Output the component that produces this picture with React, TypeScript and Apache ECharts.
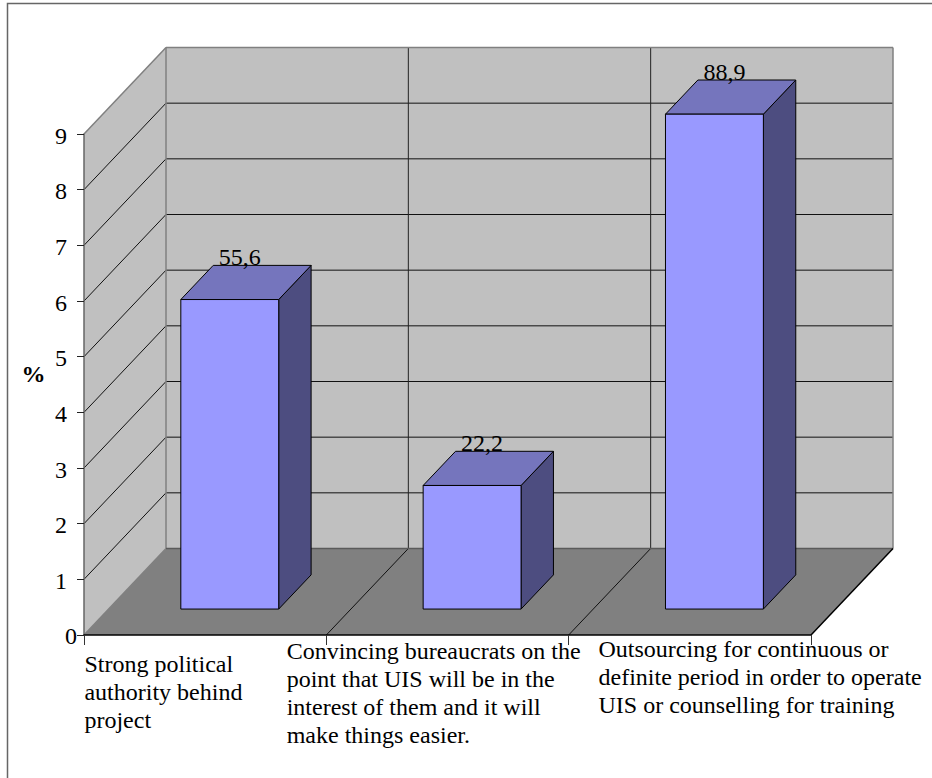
import React, { useEffect, useRef } from "react";
import * as echarts from "echarts";

// Survey results: share of respondents per success factor
const categories = [
  "Strong political\nauthority behind\nproject",
  "Convincing bureaucrats on the\npoint that UIS will be in the\ninterest of them and it will\nmake things easier.",
  "Outsourcing for continuous or\ndefinite period in order to operate\nUIS or counselling for training",
];
const percentValues = [55.6, 22.2, 88.9];
const axisTickLabels = ["0", "1", "2", "3", "4", "5", "6", "7", "8", "9"];
const gridValues = [10, 20, 30, 40, 50, 60, 70, 80];
const axisTitle = "%";

const AXIS_MAX = 90;
const AXIS_STEP = 10;

// Projection of the chart box: how far the back wall sits from the front plane
const DEPTH_X = 82;
const DEPTH_Y = -86.5;
const BAR_WIDTH_RATIO = 0.404;
const BAR_FRONT_GAP = 0.3;
const BAR_DEPTH = 0.395;

// Category captions sit off-centre: offsets from the band centre, and first-line top
const captionOffsetX = [-120.7, -160.8, -91.3];
const captionTop = [650, 637, 634.5];

const FONT = '"Liberation Serif", "Times New Roman", serif';
const FONT_SIZE = 24;
const LINE_HEIGHT = 28;

const WALL = "#c0c0c0";
const FLOOR = "#808080";
const EDGE = "#808080";
const INK = "#000000";
const BAR_FRONT = "#9999ff";
const BAR_TOP = "#7575bd";
const BAR_SIDE = "#4d4d80";

function renderWalls(_params: any, api: any) {
  const band = api.size([1, 0])[0];
  const [x0, y0] = api.coord([0, 0]);
  const left = x0 - band / 2;
  const right = left + band * categories.length;
  const topY = api.coord([0, AXIS_MAX])[1];
  const backLeft = left + DEPTH_X;
  const backRight = right + DEPTH_X;
  const backBottom = y0 + DEPTH_Y;
  const backTop = topY + DEPTH_Y;

  const poly = (points: number[][], fill: string, stroke = "none", lineWidth = 1) => ({
    type: "polygon",
    shape: { points },
    style: { fill, stroke, lineWidth },
  });
  const line = (x1: number, y1: number, x2: number, y2: number, stroke: string, lineWidth = 1) => ({
    type: "line",
    shape: { x1, y1, x2, y2 },
    style: { stroke, lineWidth },
  });

  const children: any[] = [
    poly([[left, topY], [backLeft, backTop], [backLeft, backBottom], [left, y0]], WALL),
    poly([[backLeft, backTop], [backRight, backTop], [backRight, backBottom], [backLeft, backBottom]], WALL),
  ];

  gridValues.forEach((v) => {
    const y = api.coord([0, v])[1];
    children.push(line(left, y, backLeft, y + DEPTH_Y, "#111111"));
    children.push(line(backLeft, y + DEPTH_Y, backRight, y + DEPTH_Y, "#111111"));
  });

  for (let i = 1; i < categories.length; i++) {
    const bx = backLeft + band * i;
    children.push(line(bx, backTop, bx, backBottom, "#222222"));
  }

  children.push(poly([[left, y0], [right, y0], [backRight, backBottom], [backLeft, backBottom]], FLOOR));

  for (let i = 1; i < categories.length; i++) {
    const fx = left + band * i;
    children.push(line(fx, y0, fx + DEPTH_X, backBottom, "#111111"));
  }

  children.push(line(left, topY, backLeft, backTop, EDGE, 1.5));
  children.push(line(backLeft, backTop, backRight, backTop, EDGE, 1.5));
  children.push(line(backLeft, backTop, backLeft, backBottom, EDGE, 1.5));
  children.push(line(backRight, backTop, backRight, backBottom, EDGE, 1.5));
  children.push(line(left, y0, backLeft, backBottom, EDGE, 1.5));
  children.push(line(backLeft, backBottom, backRight, backBottom, "#5a5a5a", 1.5));
  children.push(line(right, y0, backRight, backBottom, INK, 1.5));

  // Upright axis title, left of the tick labels
  children.push({
    type: "text",
    style: {
      text: axisTitle,
      x: left - 50.5,
      y: api.coord([0, AXIS_MAX / 2])[1] - 11,
      align: "center",
      verticalAlign: "middle",
      fontFamily: FONT,
      fontSize: FONT_SIZE,
      fontWeight: "bold",
      fill: INK,
    },
  });

  return { type: "group", children };
}

function renderBar(_params: any, api: any) {
  const band = api.size([1, 0])[0];
  const index = api.value(0);
  const value = api.value(1);
  const [cx, topFront] = api.coord([index, value]);
  const [, baseFront] = api.coord([index, 0]);
  const w = band * BAR_WIDTH_RATIO;

  const x1 = cx - w / 2 + DEPTH_X * BAR_FRONT_GAP;
  const x2 = x1 + w;
  const yTop = topFront + DEPTH_Y * BAR_FRONT_GAP;
  const yBase = baseFront + DEPTH_Y * BAR_FRONT_GAP;
  const dx = DEPTH_X * BAR_DEPTH;
  const dy = DEPTH_Y * BAR_DEPTH;
  const stroke = { stroke: INK, lineWidth: 1, lineJoin: "round" };

  return {
    type: "group",
    children: [
      {
        type: "polygon",
        shape: { points: [[x2, yTop], [x2 + dx, yTop + dy], [x2 + dx, yBase + dy], [x2, yBase]] },
        style: { fill: BAR_SIDE, ...stroke },
      },
      {
        type: "polygon",
        shape: { points: [[x1, yTop], [x1 + dx, yTop + dy], [x2 + dx, yTop + dy], [x2, yTop]] },
        style: { fill: BAR_TOP, ...stroke },
      },
      {
        type: "rect",
        shape: { x: x1, y: yTop, width: w, height: yBase - yTop },
        style: { fill: BAR_FRONT, ...stroke },
      },
      {
        type: "text",
        style: {
          text: String(value).replace(".", ","),
          x: (x1 + x2) / 2 + 10,
          y: yTop + dy - 8,
          align: "center",
          verticalAlign: "middle",
          fontFamily: FONT,
          fontSize: FONT_SIZE,
          fill: INK,
        },
      },
    ],
  };
}

function renderCaption(_params: any, api: any) {
  const index = api.value(0);
  const [cx] = api.coord([index, 0]);
  return {
    type: "text",
    style: {
      text: categories[index],
      x: cx + captionOffsetX[index],
      y: captionTop[index],
      align: "left",
      verticalAlign: "top",
      fontFamily: FONT,
      fontSize: FONT_SIZE,
      lineHeight: LINE_HEIGHT,
      fill: INK,
    },
  };
}

export default function App() {
  const ref = useRef<HTMLDivElement>(null);

  useEffect(() => {
    if (!ref.current) return;
    const chart = echarts.init(ref.current, undefined, { renderer: "svg" });
    chart.setOption({
      animation: false,
      backgroundColor: "#ffffff",
      graphic: [
        {
          type: "polyline",
          shape: { points: [[7.5, 778], [7.5, 3.5], [932, 3.5]] },
          style: { fill: "none", stroke: "#666666", lineWidth: 1.5 },
        },
      ],
      grid: { left: 84, top: 134, width: 727, height: 501, containLabel: false },
      xAxis: {
        type: "category",
        data: categories,
        boundaryGap: true,
        z: 6,
        axisLine: { show: true, lineStyle: { color: INK, width: 1.5 } },
        axisTick: { show: true, length: 10, lineStyle: { color: "#333333", width: 1 } },
        axisLabel: { show: false },
        splitLine: { show: false },
      },
      yAxis: {
        type: "value",
        min: 0,
        max: AXIS_MAX,
        interval: AXIS_STEP,
        z: 6,
        axisLine: { show: true, lineStyle: { color: "#666666", width: 1.5 } },
        axisTick: { show: true, length: 7, lineStyle: { color: "#222222", width: 1 } },
        axisLabel: {
          margin: 7,
          formatter: (v: number) => {
            const text = axisTickLabels[Math.round(v / AXIS_STEP)];
            return v === 0 ? `{zero|${text}}` : `{tick|${text}}`;
          },
          rich: {
            tick: { fontFamily: FONT, fontSize: FONT_SIZE, color: INK, padding: [3, 10, 0, 0] },
            zero: { fontFamily: FONT, fontSize: FONT_SIZE, color: INK, padding: [2, 0, 0, 0] },
          },
        },
        splitLine: { show: false },
      },
      series: [
        {
          type: "custom",
          name: "walls",
          z: 1,
          silent: true,
          renderItem: renderWalls,
          encode: { x: 0, y: 1 },
          data: [[0, 0]],
        },
        {
          type: "custom",
          name: "bars",
          z: 8,
          renderItem: renderBar,
          encode: { x: 0, y: 1 },
          data: percentValues.map((v, i) => [i, v]),
        },
        {
          type: "custom",
          name: "captions",
          z: 9,
          silent: true,
          renderItem: renderCaption,
          encode: { x: 0, y: 1 },
          data: categories.map((_, i) => [i, 0]),
        },
      ],
    });
    return () => chart.dispose();
  }, []);

  return (
    <div
      ref={ref}
      style={{ position: "absolute", left: 0, top: 0, width: 932, height: 778 }}
    />
  );
}
